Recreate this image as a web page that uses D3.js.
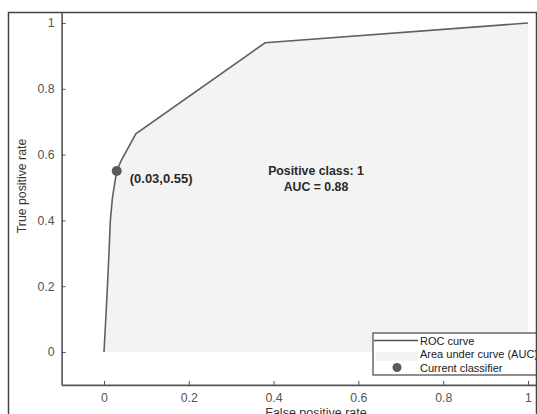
<!DOCTYPE html>
<html><head><meta charset="utf-8">
<script src="https://cdn.jsdelivr.net/npm/d3@7"></script>
<style>
body{margin:0;background:#fff;}
svg{display:block;font-family:"Liberation Sans",Arial,sans-serif;}
</style></head>
<body><svg id="c" width="537" height="414"></svg>
<script>
const fpr = [0, 0.005, 0.01, 0.015, 0.02, 0.03, 0.04, 0.075, 0.38, 1];
const tpr = [0, 0.12, 0.25, 0.40, 0.47, 0.55, 0.58, 0.663, 0.94, 1];
const currentClassifier = [0.03, 0.55];
const xTicks = [0, 0.2, 0.4, 0.6, 0.8, 1];
const yTicks = [0, 0.2, 0.4, 0.6, 0.8, 1];
const legendLabels = ["ROC curve", "Area under curve (AUC)", "Current classifier"];
const annotation = ["Positive class: 1", "AUC = 0.88"];

const svg = d3.select("#c");
svg.append("defs").append("clipPath").attr("id", "fr")
  .append("rect").attr("x", 8.5).attr("y", 12.5).attr("width", 528).attr("height", 410);
const root = svg.append("g").attr("clip-path", "url(#fr)");

const x = d3.scaleLinear().domain([-0.1, 1.1]).range([61.6, 570.4]);
const y = d3.scaleLinear().domain([-0.1, 1.1]).range([384.9, -9.9]);
const pts = fpr.map((f, i) => [f, tpr[i]]);

// area
root.append("path").datum(pts)
  .attr("d", d3.area().x(d => x(d[0])).y0(y(0)).y1(d => y(d[1])))
  .attr("fill", "#f3f3f3");
// curve
root.append("path").datum(pts)
  .attr("d", d3.line().x(d => x(d[0])).y(d => y(d[1])))
  .attr("fill", "none").attr("stroke", "#606060").attr("stroke-width", 1.6);
// marker
root.append("circle").attr("cx", x(currentClassifier[0])).attr("cy", y(currentClassifier[1]))
  .attr("r", 5).attr("fill", "#5a5a5a");
root.append("text").attr("x", x(currentClassifier[0]) + 13).attr("y", y(currentClassifier[1]) + 12)
  .attr("font-size", 13).attr("font-weight", "bold").attr("fill", "#2a2a2a")
  .text("(" + currentClassifier[0].toFixed(2) + "," + currentClassifier[1].toFixed(2) + ")");
// annotation
annotation.forEach((t, i) => root.append("text").attr("x", 316).attr("y", 175 + i * 16)
  .attr("text-anchor", "middle").attr("font-size", 12.3).attr("font-weight", "bold")
  .attr("fill", "#2a2a2a").text(t));

// axes
const xa = root.append("g").attr("transform", `translate(0,${y(-0.1)})`)
  .call(d3.axisBottom(x).tickValues(xTicks).tickSizeInner(-4).tickSizeOuter(0).tickPadding(8)
    .tickFormat(d3.format("~g")));
const ya = root.append("g").attr("transform", `translate(${x(-0.1)},0)`)
  .call(d3.axisLeft(y).tickValues(yTicks).tickSizeInner(-4).tickSizeOuter(0).tickPadding(7)
    .tickFormat(d3.format("~g")));
[xa, ya].forEach(a => {
  a.select(".domain").attr("stroke", "#555").attr("stroke-width", 1.6);
  a.selectAll(".tick line").attr("stroke", "#555");
  a.selectAll(".tick text").attr("font-size", 12.3).attr("fill", "#555")
    .attr("font-family", "'Liberation Sans',Arial,sans-serif");
});

// axis titles
root.append("text").attr("transform", "translate(26,186) rotate(-90)")
  .attr("text-anchor", "middle").attr("font-size", 12.3).attr("fill", "#333").text("True positive rate");
root.append("text").attr("x", 316).attr("y", 417).attr("text-anchor", "middle")
  .attr("font-size", 12.5).attr("fill", "#333").text("False positive rate");

// legend
const lg = root.append("g");
lg.append("rect").attr("x", 373).attr("y", 333).attr("width", 200).attr("height", 42)
  .attr("fill", "#fff").attr("stroke", "#444").attr("stroke-width", 1.2);
lg.append("line").attr("x1", 374).attr("x2", 418).attr("y1", 340.5).attr("y2", 340.5)
  .attr("stroke", "#505050").attr("stroke-width", 1.6);
lg.append("rect").attr("x", 376).attr("y", 352).attr("width", 42).attr("height", 9).attr("fill", "#f3f3f3");
lg.append("circle").attr("cx", 397).attr("cy", 367.5).attr("r", 4.5).attr("fill", "#5a5a5a");
legendLabels.forEach((t, i) => lg.append("text").attr("x", 420).attr("y", 344.5 + i * 13.5)
  .attr("font-size", 11).attr("fill", "#222").text(t));

// outer frame
svg.append("path").attr("d", "M8.5,420 L8.5,12.5 L536.5,12.5 L536.5,420")
  .attr("fill", "none").attr("stroke", "#444").attr("stroke-width", 1.5);
</script></body></html>
